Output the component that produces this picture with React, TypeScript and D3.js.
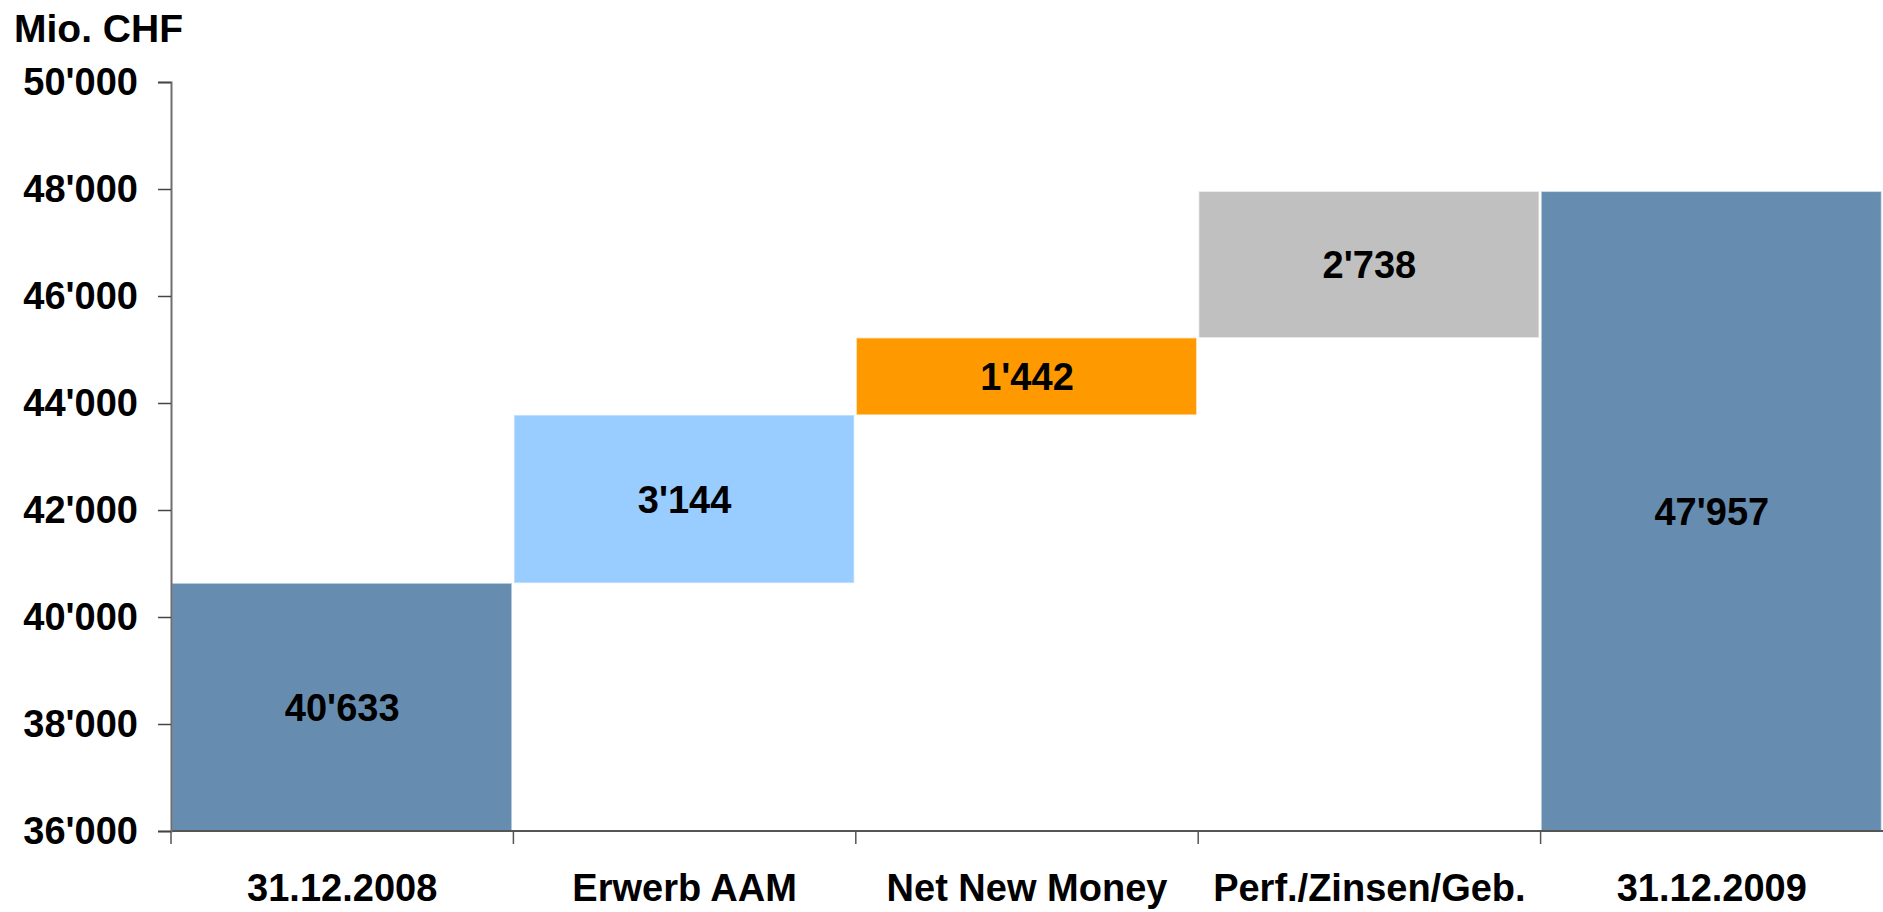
import React, { useEffect, useMemo, useRef } from "react";
import * as d3 from "d3";

const WIDTH = 1883;
const HEIGHT = 912;
const MARGIN = { top: 82, right: 0, bottom: 81, left: 171 };

const categories = [
  "31.12.2008",
  "Erwerb AAM",
  "Net New Money",
  "Perf./Zinsen/Geb.",
  "31.12.2009",
];
const values = [40633, 3144, 1442, 2738, 47957];
const kinds = ["total", "delta", "delta", "delta", "total"];
const barColors = ["#668DAF", "#99CCFF", "#FF9900", "#C0C0C0", "#668DAF"];
const yTicks = [36000, 38000, 40000, 42000, 44000, 46000, 48000, 50000];
const Y_MIN = 36000;
const Y_MAX = 50000;

const FONT = "'Liberation Sans', Arial, sans-serif";
const swiss = d3.formatLocale({
  decimal: ".",
  thousands: "'",
  grouping: [3],
  currency: ["", ""],
});
const fmt = swiss.format(",");

const App = () => {
  const yAxisRef = useRef<SVGGElement>(null);
  const boundsHeight = HEIGHT - MARGIN.top - MARGIN.bottom;

  const xScale = useMemo(
    () =>
      d3
        .scaleBand<string>()
        .domain(categories)
        .range([MARGIN.left, WIDTH - MARGIN.right])
        .padding(0),
    []
  );
  const yScale = useMemo(
    () =>
      d3
        .scaleLinear()
        .domain([Y_MIN, Y_MAX])
        .range([MARGIN.top + boundsHeight, MARGIN.top]),
    []
  );

  // waterfall: running start / end of every bar
  const bars = useMemo(() => {
    let running = 0;
    return categories.map((cat, i) => {
      let lo: number;
      let hi: number;
      if (kinds[i] === "total") {
        lo = Y_MIN;
        hi = values[i];
        running = values[i];
      } else {
        lo = running;
        hi = running + values[i];
        running = hi;
      }
      return { cat, lo, hi, value: values[i], color: barColors[i] };
    });
  }, []);

  // y axis drawn by d3
  useEffect(() => {
    const g = d3.select(yAxisRef.current);
    g.selectAll("*").remove();
    g.attr("transform", `translate(${MARGIN.left},0)`).call(
      d3
        .axisLeft(yScale)
        .tickValues(yTicks)
        .tickFormat((d) => fmt(d as number))
        .tickSize(13)
        .tickPadding(20)
    );
    g.select(".domain").attr("stroke", "#6e6e6e").attr("stroke-width", 2);
    g.selectAll(".tick line").attr("stroke", "#444").attr("stroke-width", 1.5);
    g.selectAll(".tick text")
      .attr("fill", "#000")
      .attr("font-family", FONT)
      .attr("font-weight", "bold")
      .attr("font-size", "38px");
    g.attr("font-family", FONT);
  }, [yScale]);

  const bw = xScale.bandwidth();
  const axisY = yScale(Y_MIN);

  return (
    <svg
      width={WIDTH}
      height={HEIGHT}
      style={{ position: "absolute", left: 0, top: 0, display: "block" }}
    >
      <rect width={WIDTH} height={HEIGHT} fill="#fff" />
      <text
        x={14}
        y={42}
        fontFamily={FONT}
        fontWeight="bold"
        fontSize={39}
        fill="#000"
      >
        Mio. CHF
      </text>

      {bars.map((b, i) => {
        const x = xScale(b.cat) as number;
        const y1 = yScale(b.hi);
        const y0 = yScale(b.lo);
        return (
          <g key={i}>
            <rect
              x={x + 0.5}
              y={y1}
              width={bw - 2}
              height={y0 - y1}
              fill={b.color}
              stroke="#fff"
              strokeOpacity={0.55}
              strokeWidth={1.5}
            />
            <text
              x={x + bw / 2}
              y={(y0 + y1) / 2}
              dy="0.36em"
              textAnchor="middle"
              fontFamily={FONT}
              fontWeight="bold"
              fontSize={38}
              fill="#000"
            >
              {fmt(b.value)}
            </text>
          </g>
        );
      })}

      {/* x axis */}
      <line
        x1={MARGIN.left}
        x2={WIDTH}
        y1={axisY}
        y2={axisY}
        stroke="#555"
        strokeWidth={2}
      />
      {categories.map((c) => (
        <line
          key={"t" + c}
          x1={xScale(c) as number}
          x2={xScale(c) as number}
          y1={axisY}
          y2={axisY + 13}
          stroke="#555"
          strokeWidth={1.5}
        />
      ))}
      {categories.map((c) => (
        <text
          key={"l" + c}
          x={(xScale(c) as number) + bw / 2}
          y={901}
          textAnchor="middle"
          fontFamily={FONT}
          fontWeight="bold"
          fontSize={38}
          fill="#000"
        >
          {c}
        </text>
      ))}

      <g ref={yAxisRef} />
    </svg>
  );
};

export default App;
